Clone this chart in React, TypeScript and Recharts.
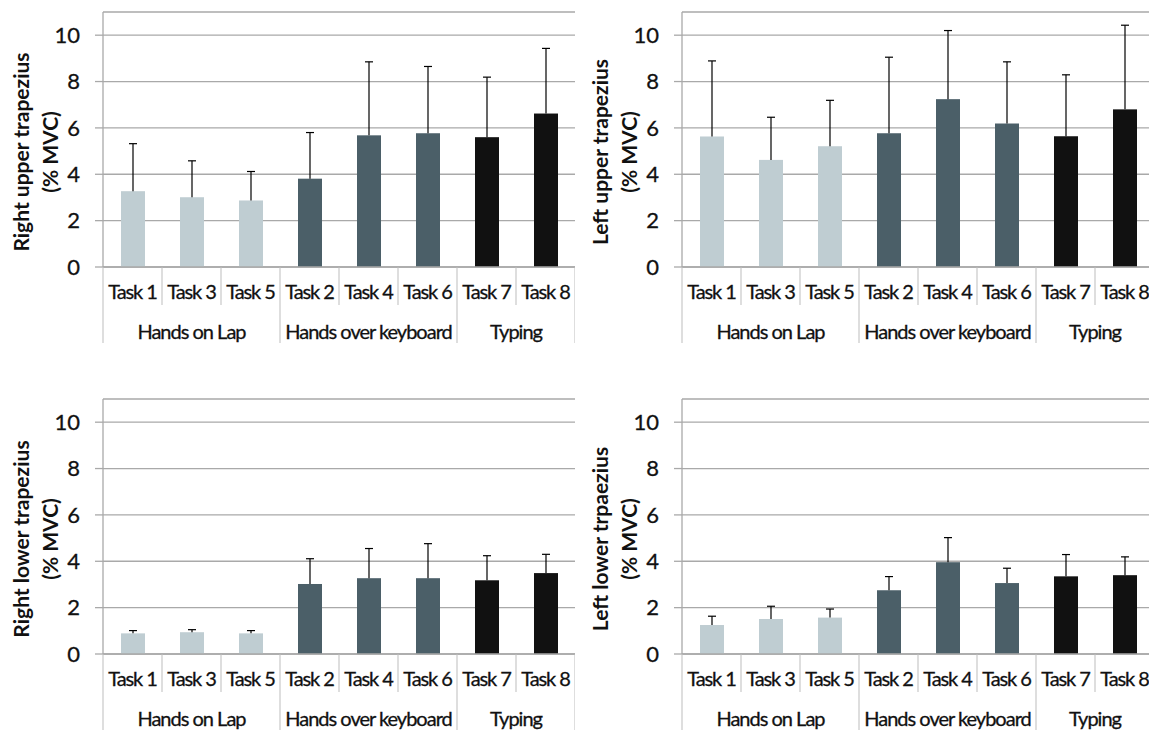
import React from 'react'
import { BarChart, Bar, XAxis, YAxis, CartesianGrid, Cell } from 'recharts'

// categories, in the order they sit on the x axis
const tasks = ['Task 1', 'Task 3', 'Task 5', 'Task 2', 'Task 4', 'Task 6', 'Task 7', 'Task 8']
const groupNames = ['Hands on Lap', 'Hands over keyboard', 'Typing']
const taskGroup = [0, 0, 0, 1, 1, 1, 2, 2]
const groupColors = ['#BFCDD2', '#4B5F68', '#111111']

const yTicks = [0, 2, 4, 6, 8, 10]

// mean and SD (% MVC) per task
const rightUpperMean = [3.27, 3.01, 2.87, 3.81, 5.68, 5.77, 5.6, 6.62]
const rightUpperSd = [2.05, 1.57, 1.25, 1.99, 3.17, 2.88, 2.59, 2.81]
const leftUpperMean = [5.63, 4.62, 5.21, 5.77, 7.24, 6.19, 5.64, 6.8]
const leftUpperSd = [3.26, 1.84, 1.98, 3.28, 2.96, 2.66, 2.65, 3.63]
const rightLowerMean = [0.89, 0.94, 0.89, 3.02, 3.27, 3.27, 3.18, 3.49]
const rightLowerSd = [0.12, 0.11, 0.12, 1.09, 1.28, 1.49, 1.06, 0.81]
const leftLowerMean = [1.25, 1.51, 1.57, 2.75, 3.96, 3.06, 3.35, 3.4]
const leftLowerSd = [0.38, 0.55, 0.37, 0.59, 1.06, 0.64, 0.94, 0.79]

const FONT = "Lato, 'Open Sans', sans-serif"
const TEXT = '#111'
const GRID = '#a9a9a9'
const DIVIDER = '#bdbdbd'

const CHART_W = 575
const CHART_H = 350
const Y_AXIS_W = 103
const X_AXIS_H = 83
const PLOT_TOP = 12
const PLOT_BOTTOM = CHART_H - X_AXIS_H
const BAND = (CHART_W - Y_AXIS_W) / tasks.length

// thin outline so the regular weight reads a little darker
const textInk = { fill: TEXT, stroke: TEXT, strokeWidth: 0.3 }

const buildRows = (mean: number[], sd: number[]) =>
    tasks.map((task, i) => ({ task, mean: mean[i], sd: sd[i], group: taskGroup[i] }))

// bar plus an upper-only error whisker
const BarWithError = (props: any) => {
    const { x, y, width, height, fill, payload } = props
    const pxPerUnit = payload.mean > 0 ? height / payload.mean : 0
    const top = y - payload.sd * pxPerUnit
    const cx = x + width / 2
    return (
        <g>
            <rect x={x} y={y} width={width} height={height} fill={fill} />
            <line x1={cx} y1={y} x2={cx} y2={top} stroke="#000" strokeWidth={1.2} />
            <line x1={cx - 4} y1={top} x2={cx + 4} y2={top} stroke="#000" strokeWidth={1.2} />
        </g>
    )
}

// two-level category axis: task names, group names and the divider lines
const TaskTick = (props: any) => {
    const { x, payload } = props
    const i = payload.index
    const g = taskGroup[i]
    const left = x - BAND / 2
    const groupStart = i === 0 || taskGroup[i - 1] !== g
    const last = i === tasks.length - 1
    const members = taskGroup.map((v, k) => (v === g ? k : -1)).filter(k => k >= 0)
    const mid = (members[0] + members[members.length - 1]) / 2
    const showGroup = Math.floor(mid) === i
    const groupX = x + (mid - i) * BAND
    return (
        <g>
            <line x1={left} y1={PLOT_BOTTOM} x2={left} y2={PLOT_BOTTOM + (groupStart ? 76 : 38)} stroke={DIVIDER} strokeWidth={1} />
            {last && (
                <line x1={x + BAND / 2} y1={PLOT_BOTTOM} x2={x + BAND / 2} y2={PLOT_BOTTOM + 76} stroke={DIVIDER} strokeWidth={1} />
            )}
            <text x={x} y={PLOT_BOTTOM + 25} dy="0.35em" textAnchor="middle" fontSize={20} letterSpacing={-1.1} {...textInk}>
                {payload.value}
            </text>
            {showGroup && (
                <text x={groupX} y={PLOT_BOTTOM + 65} dy="0.35em" textAnchor="middle" fontSize={20} letterSpacing={-1} {...textInk}>
                    {groupNames[g]}
                </text>
            )}
        </g>
    )
}

const AxisTitle = ({ lines }: { lines: string[] }) => {
    const cy = 152
    const xs = [22, 51]
    return (
        <g>
            {lines.map((line, k) => (
                <text
                    key={k}
                    x={xs[k]}
                    y={cy}
                    dy="0.35em"
                    transform={`rotate(-90 ${xs[k]} ${cy})`}
                    textAnchor="middle"
                    fontSize={21}
                    fontWeight="bold"
                    fill={TEXT}
                >
                    {line}
                </text>
            ))}
        </g>
    )
}

interface PanelProps {
    mean: number[]
    sd: number[]
    title: string
}

function Panel({ mean, sd, title }: PanelProps) {
    const rows = buildRows(mean, sd)
    return (
        <BarChart width={CHART_W} height={CHART_H} data={rows} margin={{ top: PLOT_TOP, right: 0, bottom: 0, left: 0 }} barSize={24}>
            <CartesianGrid vertical={false} stroke={GRID} strokeWidth={1.3} />
            <XAxis
                dataKey="task"
                interval={0}
                height={X_AXIS_H}
                tickLine={false}
                axisLine={{ stroke: GRID, strokeWidth: 1.3 }}
                tick={<TaskTick />}
            />
            <YAxis
                domain={[0, 11]}
                ticks={yTicks}
                interval={0}
                width={Y_AXIS_W}
                tickSize={8}
                tickMargin={15}
                axisLine={{ stroke: GRID, strokeWidth: 1.3 }}
                tickLine={{ stroke: GRID, strokeWidth: 1.3 }}
                tick={{ fontSize: 22, ...textInk }}
                label={<AxisTitle lines={[title, '(% MVC)']} />}
            />
            <Bar dataKey="mean" shape={<BarWithError />} isAnimationActive={false}>
                {rows.map((r, i) => (
                    <Cell key={i} fill={groupColors[r.group]} />
                ))}
            </Bar>
        </BarChart>
    )
}

export default function App() {
    const place = (left: number, top: number): React.CSSProperties => ({ position: 'absolute', left, top })
    return (
        <div style={{ position: 'absolute', left: 0, top: 0, width: 1149, height: 730, overflow: 'hidden', background: '#fff', fontFamily: FONT }}>
            <div style={place(0, 0)}>
                <Panel mean={rightUpperMean} sd={rightUpperSd} title="Right upper trapezius" />
            </div>
            <div style={place(579, 0)}>
                <Panel mean={leftUpperMean} sd={leftUpperSd} title="Left upper trapezius" />
            </div>
            <div style={place(0, 387)}>
                <Panel mean={rightLowerMean} sd={rightLowerSd} title="Right lower trapezius" />
            </div>
            <div style={place(579, 387)}>
                <Panel mean={leftLowerMean} sd={leftLowerSd} title="Left lower trpaezius" />
            </div>
        </div>
    )
}
